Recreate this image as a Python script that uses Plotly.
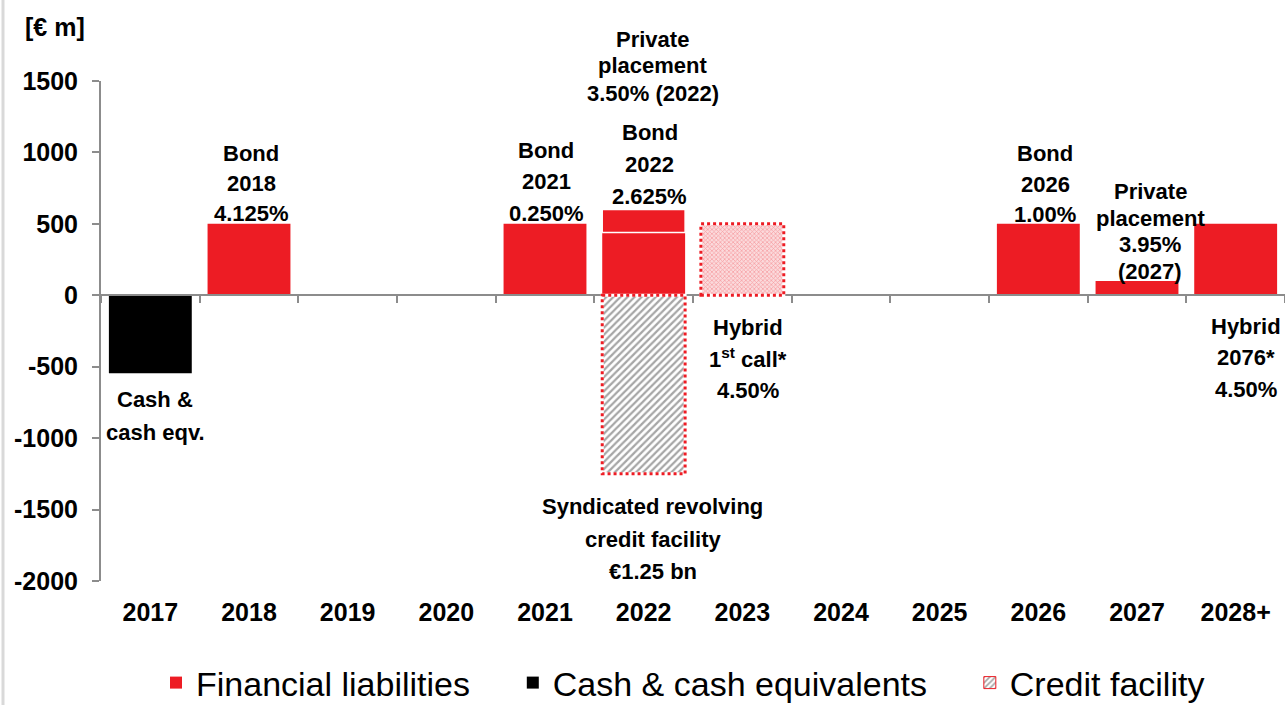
import plotly.graph_objects as go

# ---------------- data ----------------
categories = ["2017", "2018", "2019", "2020", "2021", "2022",
              "2023", "2024", "2025", "2026", "2027", "2028+"]
financial_liabilities = [None, 500, None, None, 500, 440, None, None, None, 500, 100, 500]
private_placement_2022 = [None, None, None, None, None, 160, None, None, None, None, None, None]
hybrid_first_call = [None, None, None, None, None, None, 500, None, None, None, None, None]
cash_equivalents = [-546, None, None, None, None, None, None, None, None, None, None, None]
credit_facility = [None, None, None, None, None, -1250, None, None, None, None, None, None]
y_tickvals = [1500, 1000, 500, 0, -500, -1000, -1500, -2000]
y_ticktext = ["1500", "1000", "500", "0", "-500", "-1000", "-1500", "-2000"]

# ---------------- style ----------------
RED = "#ED1C24"
AXIS = "#8C8C8C"
FONT = "Arial, Liberation Sans, sans-serif"
BAR_FRAC = 0.84

# plot area geometry (px)
W, H = 1285, 705
ML, MR, MT, MB = 101, 0, 81, 124
PH = H - MT - MB
PW = W - ML - MR

def py(ypx):
    """pixel row -> paper y"""
    return (H - MB - ypx) / PH

fig = go.Figure()

fig.add_trace(go.Bar(x=categories, y=financial_liabilities,
                     name="Financial liabilities" + "\u00a0" * 4,
                     marker=dict(color=RED, line=dict(width=0))))
fig.add_trace(go.Bar(x=categories, y=cash_equivalents,
                     name="Cash & cash equivalents" + "\u00a0" * 4,
                     marker=dict(color="#000000", line=dict(width=0))))
fig.add_trace(go.Bar(x=categories, y=credit_facility, name="Credit facility",
                     marker=dict(color="#FFFFFF", line=dict(width=1, color=RED),
                                 pattern=dict(shape="/", fgcolor="#4D4D4D", bgcolor="#FFFFFF",
                                              size=5, solidity=0.45))))
fig.add_trace(go.Bar(x=categories, y=private_placement_2022, name="Private placement",
                     showlegend=False,
                     marker=dict(color=RED, line=dict(width=1.5, color="#FFFFFF"))))
fig.add_trace(go.Bar(x=categories, y=hybrid_first_call, name="Hybrid 1st call",
                     showlegend=False,
                     marker=dict(color="#FFFFFF", line=dict(width=0),
                                 pattern=dict(shape="x", fgcolor="#F05A62", bgcolor="#FBDADC",
                                              size=3, solidity=0.4))))
# invisible trace carrying the bottom category labels
fig.add_trace(go.Bar(x=categories, y=[0] * len(categories), xaxis="x2", yaxis="y",
                     showlegend=False, hoverinfo="skip",
                     marker=dict(color="rgba(0,0,0,0)", line=dict(width=0))))

# dotted red outlines for facility / hybrid bars (white underlay hides solid edge)
shapes = []
for series in (credit_facility, hybrid_first_call):
    for i, v in enumerate(series):
        if v is not None:
            shapes.append(dict(type="rect", xref="x", yref="y",
                               x0=i - BAR_FRAC / 2, x1=i + BAR_FRAC / 2, y0=0, y1=v,
                               line=dict(color="#FFFFFF", width=3),
                               fillcolor="rgba(0,0,0,0)", layer="above"))
            shapes.append(dict(type="rect", xref="x", yref="y",
                               x0=i - BAR_FRAC / 2, x1=i + BAR_FRAC / 2, y0=0, y1=v,
                               line=dict(color=RED, width=3, dash="dot"),
                               fillcolor="rgba(0,0,0,0)", layer="above"))
# light border on left edge
shapes.append(dict(type="line", xref="paper", yref="paper",
                   x0=(3 - ML) / PW, x1=(3 - ML) / PW,
                   y0=py(0), y1=py(H), line=dict(color="#D9D9D9", width=3)))

# ---------------- annotations ----------------
labels = [
    (0, 5, ["Cash &", "cash eqv."], [399, 432]),
    (1, 2, ["Bond", "2018", "4.125%"], [153, 183, 213]),
    (4, 1, ["Bond", "2021", "0.250%"], [150, 182, 213]),
    (5, 9, ["Private", "placement", "3.50% (2022)"], [40, 66, 93]),
    (5, 6, ["Bond", "2022", "2.625%"], [132, 164, 196]),
    (5, 9, ["Syndicated revolving", "credit facility", "€1.25 bn"], [506, 539, 571]),
    (6, 6, ["Hybrid", "1<sup>st</sup> call*", "4.50%"], [327, 358, 390]),
    (9, 7, ["Bond", "2026", "1.00%"], [153, 184, 214]),
    (10, 13, ["Private", "placement", "3.95%", "(2027)"], [191, 218, 245, 271]),
    (11, 10, ["Hybrid", "2076*", "4.50%"], [326, 357, 389]),
]
annotations = []
for idx, dx, lines, ys in labels:
    for t, ypx in zip(lines, ys):
        annotations.append(dict(x=idx, xref="x", xshift=dx, y=py(ypx), yref="paper",
                                text="<b>" + t + "</b>", showarrow=False,
                                xanchor="center", yanchor="middle",
                                font=dict(family=FONT, size=22, color="#000000")))
annotations.append(dict(x=(55 - ML) / PW, xref="paper", y=py(27), yref="paper",
                        text="<b>[€ m]</b>", showarrow=False, xanchor="center",
                        yanchor="middle", font=dict(family=FONT, size=25, color="#000000")))

zero_pos = (0 - (-2000)) / (1500 - (-2000))

fig.update_layout(
    width=W, height=H,
    margin=dict(l=ML, r=MR, t=MT, b=MB, pad=0, autoexpand=False),
    paper_bgcolor="#FFFFFF", plot_bgcolor="#FFFFFF",
    barmode="relative", bargap=1 - BAR_FRAC,
    font=dict(family=FONT, color="#000000"),
    shapes=shapes, annotations=annotations,
    showlegend=True, hovermode=False,
    legend=dict(orientation="h", x=(683 - ML) / PW, xanchor="center", y=py(683), yanchor="middle",
                font=dict(family=FONT, size=34, color="#000000"),
                bgcolor="rgba(0,0,0,0)", traceorder="normal"),
    xaxis=dict(type="category", categoryorder="array", categoryarray=categories,
               range=[-0.5, len(categories) - 0.5], anchor="free", position=zero_pos,
               showline=True, linecolor=AXIS, linewidth=2,
               ticks="outside", tickson="boundaries", ticklen=7, tickcolor=AXIS, tickwidth=2,
               showticklabels=False, showgrid=False, zeroline=False, automargin=False),
    xaxis2=dict(type="category", categoryorder="array", categoryarray=categories,
                range=[-0.5, len(categories) - 0.5], overlaying="x", anchor="y", side="bottom",
                showline=False, ticks="", showgrid=False, zeroline=False, automargin=False,
                tickfont=dict(family=FONT, size=25, color="#000000"),
                tickprefix="<b>", ticksuffix="</b>", ticklabelstandoff=14),
    yaxis=dict(range=[-2000, 1500], tickvals=y_tickvals,
               ticktext=["<b>" + t + "</b>" for t in y_ticktext],
               showline=True, linecolor=AXIS, linewidth=2, ticks="outside", ticklen=7,
               tickcolor=AXIS, tickwidth=2, showgrid=False, zeroline=False, automargin=False,
               tickfont=dict(family=FONT, size=25, color="#000000"), ticklabelstandoff=9),
)

fig.write_html("out.html", config={"displayModeBar": False},
               post_script="document.body.style.margin='0';document.body.style.overflow='hidden';")
